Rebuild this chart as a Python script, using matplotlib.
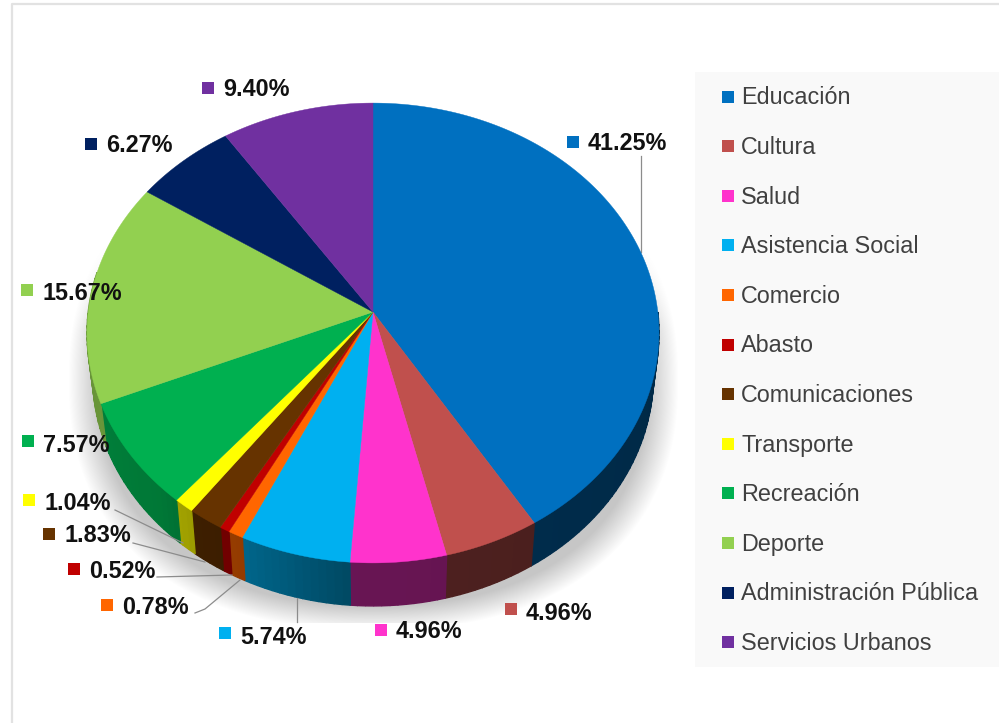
import matplotlib
matplotlib.use("Agg")
import matplotlib.pyplot as plt
import numpy as np

plt.rcParams['font.family'] = ['Liberation Sans', 'DejaVu Sans']

categories = ['Educación', 'Cultura', 'Salud', 'Asistencia Social', 'Comercio', 'Abasto',
              'Comunicaciones', 'Transporte', 'Recreación', 'Deporte',
              'Administración Pública', 'Servicios Urbanos']
values = [41.25, 4.96, 4.96, 5.74, 0.78, 0.52, 1.83, 1.04, 7.57, 15.67, 6.27, 9.40]
colors = ['#0070c0', '#c0504d', '#ff33cc', '#00b0f0', '#ff6600', '#c00000',
          '#663300', '#ffff00', '#00b050', '#92d050', '#002060', '#7030a0']

# where each percent label sits: square centre x, square centre y, text x, text y
label_pos = [(573, 142, 588, 144), (511, 609, 526, 613), (381, 630, 396, 632),
             (225, 633, 240, 637), (107, 605, 122, 607), (74, 569, 89, 571),
             (49, 534, 65, 536), (29, 500, 44, 503), (28, 441, 43, 445),
             (27, 290, 43, 293), (91, 144, 106, 146), (208, 88, 223, 90)]

# leader lines from label to slice
leaders = [[(641, 156), (641, 252)], [(297, 598), (297, 622)],
           [(115, 510), (183, 543)], [(133, 543), (205, 562)],
           [(157, 577), (232, 575)], [(195, 613), (205, 609), (240, 580)]]

# pie geometry in pixels, the apex is not the ellipse centre because of perspective
cx, cy = 373, 312
rad_x, rad_y = 284.8, 228
persp = 0.0913
depth = 43
rim_scale = 0.98


def project(angle, r=1.0):
    # angle is clockwise from the top, degrees
    a = np.radians(angle)
    u, v = r * np.sin(a), r * np.cos(a)
    d = 1 + persp * v
    return cx + rad_x * u / d, cy - rad_y * v / d


def side_shade(angle):
    # how dark the wall is, going round the front
    return np.interp(angle, [90, 184, 205, 215, 225, 250, 280], [.36, .41, .58, .6, .68, .72, .7])


def darker(col, f):
    return tuple(c * f for c in matplotlib.colors.to_rgb(col))


fig = plt.figure(figsize=(9.99, 7.23), dpi=100)
ax = fig.add_axes([0, 0, 1, 1])

# soft shadow under the pie
yy, xx = np.mgrid[0:723, 0:999]
dist = (np.abs((xx - 373) / 305) ** 2.3 + np.abs((yy - 380) / 250) ** 2.3) ** (1 / 2.3)
alpha = np.clip((1.0 - dist) / 0.10, 0, 1)
alpha = alpha * np.clip((yy - 240) / 90, 0, 1)
alpha[yy > 622] = 0
alpha[xx > 678] = 0
shadow = np.zeros((723, 999, 4))
shadow[..., :3] = 0.78
shadow[..., 3] = alpha
ax.imshow(shadow, extent=(0, 999, 723, 0), zorder=1, interpolation='bilinear')

# frame lines and legend panel
ax.plot([12, 12, 999], [723, 4, 4], color='#e2e2e2', lw=1.6, zorder=0)
ax.fill([695, 999, 999, 695], [72, 72, 667, 667], color='#f9f9f9', lw=0, zorder=0)

# wall and top of each slice
edges = np.concatenate([[0], np.cumsum(values)]) / sum(values) * 360
for i, col in enumerate(colors):
    start, stop = edges[i], edges[i + 1]
    steps = np.arange(start, stop, 1.5)
    steps = np.append(steps, stop)
    for a0, a1 in zip(steps[:-1], steps[1:]):
        if (a0 + a1) / 2 < 90 or (a0 + a1) / 2 > 280:
            continue
        seg = np.linspace(a0, a1, 4)
        x, y = project(seg)
        xb = cx + (x - cx) * rim_scale
        yb = y + depth
        shade = darker(col, side_shade((a0 + a1) / 2))
        ax.fill(np.r_[x, xb[::-1]], np.r_[y, yb[::-1]], color=shade, lw=1.0, zorder=2)

for i, col in enumerate(colors):
    arc = np.linspace(edges[i], edges[i + 1], max(3, int(values[i] * 8)))
    x, y = project(arc)
    ax.fill(np.r_[cx, x], np.r_[cy, y], color=col, lw=0.3, zorder=3)

for pts in leaders:
    px, py = zip(*pts)
    ax.plot(px, py, color='#8c8c8c', lw=0.9, zorder=2.5)

# percent labels
for val, col, (sx, sy, tx, ty) in zip(values, colors, label_pos):
    ax.scatter([sx], [sy], marker='s', s=85, color=col, lw=0, zorder=4)
    ax.text(tx, ty, f'{val:.2f}%', fontsize=16.8, fontweight='bold', color='#111111',
            va='center', ha='left', zorder=5)

# legend
for i, (name, col) in enumerate(zip(categories, colors)):
    ly = 96.5 + i * 49.6
    ax.scatter([727.5], [ly], marker='s', s=85, color=col, lw=0, zorder=4)
    ax.text(741, ly + 1.5, name, fontsize=16.8, color='#404040', va='center', ha='left', zorder=5)

ax.set_xlim(0, 999)
ax.set_ylim(723, 0)
ax.axis('off')
fig.savefig('out.png', dpi=100)
